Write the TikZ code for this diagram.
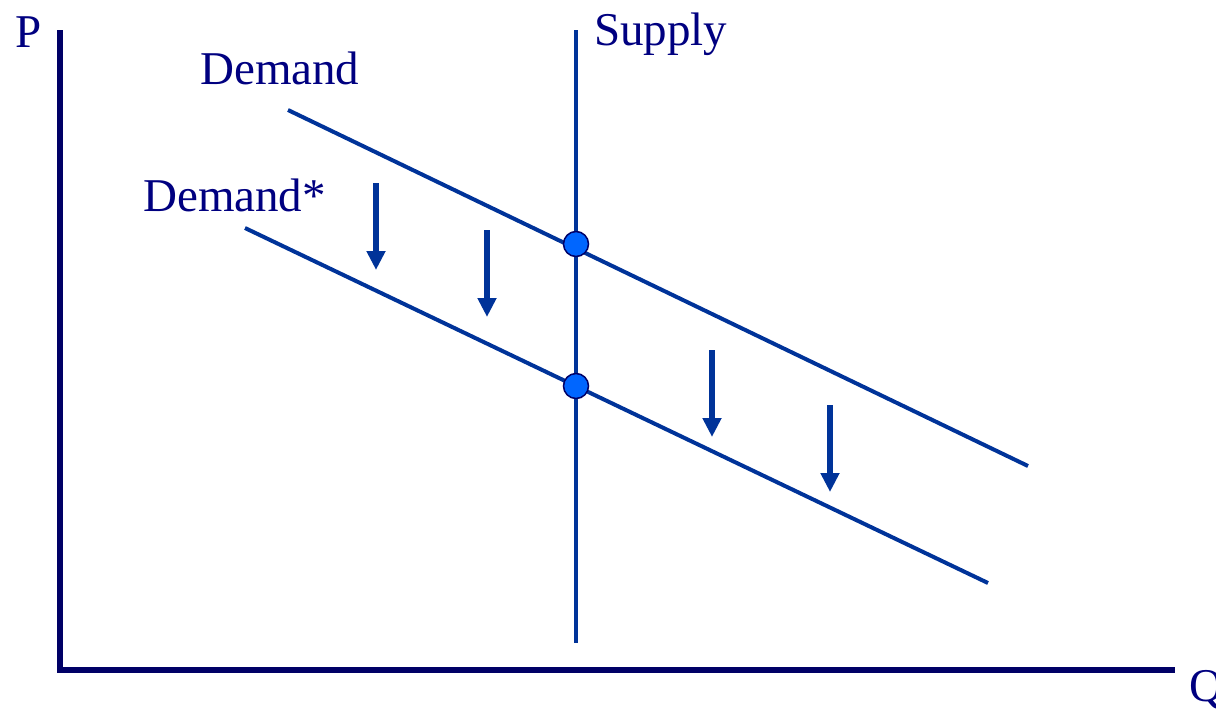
\documentclass[tikz,border=0pt]{standalone}
\usepackage{fontspec}
\setmainfont{Liberation Serif}
\usetikzlibrary{arrows.meta}
\definecolor{axisnavy}{RGB}{0,0,102}
\definecolor{textnavy}{RGB}{0,0,128}
\definecolor{curveblue}{RGB}{0,51,153}
\definecolor{dotblue}{RGB}{0,102,255}
\begin{document}
\begin{tikzpicture}[x=1pt,y=-1pt,
  lbl/.style={anchor=base west,inner sep=0pt,text=textnavy,font=\fontsize{47}{50}\selectfont},
  axisline/.style={draw=axisnavy,line width=6.5pt},
  curve/.style={draw=curveblue,line width=4pt},
  shiftarrow/.style={draw=curveblue,line width=6pt,-{Triangle[length=19pt,width=18pt]}},
  eqdot/.style={circle,fill=dotblue,draw=axisnavy,line width=1.5pt,minimum size=25pt,inner sep=0pt}]
\useasboundingbox (0,0) rectangle (1216,710);
% axes
\coordinate (ytop) at (60,30);
\coordinate (origin) at (60,670);
\coordinate (xend) at (1175,670);
\draw[axisline] (ytop) -- (60,673);
\draw[axisline] (57,670) -- (xend);
% labels
\node[lbl] (P) at (15,47) {P};
\node[lbl] (Q) at (1189,701) {Q};
\node[lbl] (Sl) at (594,45) {Supply};
\node[lbl] (Dl) at (200,84) {Demand};
\node[lbl] (Dsl) at (143,211) {Demand*};
% curves
\coordinate (s1) at (576,30);
\coordinate (s2) at (576,643);
\coordinate (d1) at (288,110);
\coordinate (d2) at (1028,466);
\coordinate (e1) at (245,228);
\coordinate (e2) at (988,583);
\draw[curve] (s1) -- (s2);
\draw[curve] (d1) -- (d2);
\draw[curve] (e1) -- (e2);
% arrows
\coordinate (a1s) at (376,183); \coordinate (a1e) at (376,270);
\coordinate (a2s) at (487,230); \coordinate (a2e) at (487,317);
\coordinate (a3s) at (712,350); \coordinate (a3e) at (712,437);
\coordinate (a4s) at (830,405); \coordinate (a4e) at (830,492);
\draw[shiftarrow] (a1s) -- (a1e);
\draw[shiftarrow] (a2s) -- (a2e);
\draw[shiftarrow] (a3s) -- (a3e);
\draw[shiftarrow] (a4s) -- (a4e);
% equilibrium dots
\node[eqdot] (E1) at (576,244) {};
\node[eqdot] (E2) at (576,386) {};
\end{tikzpicture}
\end{document}
